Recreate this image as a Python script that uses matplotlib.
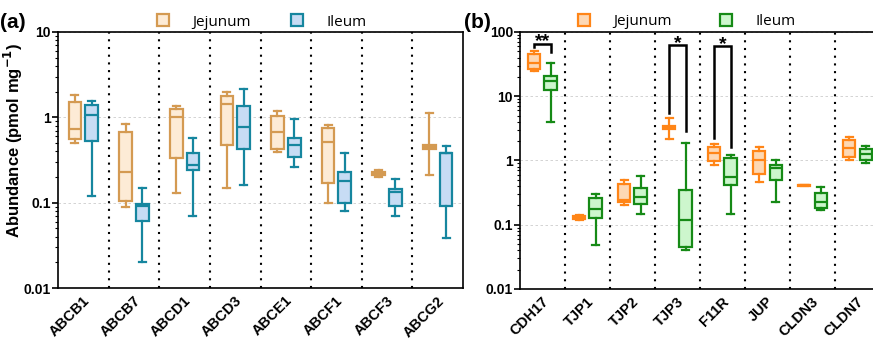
import matplotlib
matplotlib.use("Agg")
import matplotlib.pyplot as plt
import matplotlib.ticker as mticker
from matplotlib.lines import Line2D
import matplotlib.transforms as mtransforms

plt.rcParams['font.family'] = ['Liberation Sans', 'DejaVu Sans']

# ---- panel (a): ABC transporters, stats = whislo, q1, med, q3, whishi ----
abc_names = ['ABCB1', 'ABCB7', 'ABCD1', 'ABCD3', 'ABCE1', 'ABCF1', 'ABCF3', 'ABCG2']
abc_jej = [
    [0.50, 0.55, 0.73, 1.52, 1.84],
    [0.089, 0.106, 0.23, 0.68, 0.84],
    [0.13, 0.33, 1.00, 1.25, 1.36],
    [0.15, 0.47, 1.43, 1.77, 2.00],
    [0.39, 0.43, 0.67, 1.05, 1.20],
    [0.10, 0.17, 0.51, 0.76, 0.82],
    [0.20, 0.21, 0.22, 0.23, 0.24],
    [0.21, 0.42, 0.45, 0.47, 1.12],
]
abc_ile = [
    [0.12, 0.53, 1.06, 1.41, 1.57],
    [0.020, 0.061, 0.092, 0.097, 0.15],
    [0.069, 0.24, 0.28, 0.38, 0.58],
    [0.16, 0.42, 0.78, 1.37, 2.14],
    [0.26, 0.34, 0.47, 0.58, 0.96],
    [0.08, 0.10, 0.18, 0.226, 0.38],
    [0.07, 0.091, 0.133, 0.146, 0.19],
    [0.039, 0.091, 0.38, 0.38, 0.46],
]

# ---- panel (b): junction proteins ----
jun_names = ['CDH17', 'TJP1', 'TJP2', 'TJP3', 'F11R', 'JUP', 'CLDN3', 'CLDN7']
jun_jej = [
    [25.0, 27.0, 33.0, 45.5, 51.0],
    [0.12, 0.125, 0.13, 0.135, 0.14],
    [0.20, 0.225, 0.245, 0.43, 0.50],
    [2.17, 3.1, 3.3, 3.5, 4.55],
    [0.84, 0.98, 1.30, 1.61, 1.82],
    [0.46, 0.61, 1.00, 1.43, 1.61],
    [0.40, 0.405, 0.41, 0.415, 0.42],
    [1.02, 1.15, 1.55, 2.10, 2.30],
]
jun_ile = [
    [4.0, 12.7, 17.5, 21.0, 32.6],
    [0.049, 0.128, 0.177, 0.263, 0.296],
    [0.148, 0.21, 0.275, 0.367, 0.58],
    [0.040, 0.045, 0.12, 0.35, 1.86],
    [0.148, 0.42, 0.56, 1.10, 1.20],
    [0.225, 0.50, 0.77, 0.84, 1.02],
    [0.167, 0.184, 0.23, 0.31, 0.39],
    [0.92, 1.02, 1.27, 1.52, 1.69],
]
# significance: category index, bracket top, left leg end, right leg end, label
sig_idx = [0, 3, 4]
sig_top = [66.0, 63.0, 61.0]
sig_left = [59.0, 5.4, 2.25]
sig_right = [48.0, 2.86, 1.61]
sig_text = ['**', '*', '*']

JEJ_A = ('#D49A52', '#FDEBD6')
ILE_A = ('#16869F', '#C7DCF4')
JEJ_B = ('#FF8517', '#FDD8B4')
ILE_B = ('#168A16', '#CDF6CD')


def to_stats(rows):
    return [dict(whislo=r[0], q1=r[1], med=r[2], q3=r[3], whishi=r[4], fliers=[]) for r in rows]


def draw_boxes(ax, rows, pos, colors, width):
    ec, fc = colors
    ax.bxp(to_stats(rows), positions=pos, widths=width, patch_artist=True,
           showfliers=False, manage_ticks=False,
           boxprops=dict(facecolor=fc, edgecolor=ec, linewidth=1.6),
           medianprops=dict(color=ec, linewidth=1.6),
           whiskerprops=dict(color=ec, linewidth=1.6),
           capprops=dict(color=ec, linewidth=1.6), capwidths=width * 0.55)


def style_axis(ax, names, ymin, ymax):
    n = len(names)
    ax.set_yscale('log')
    ax.set_ylim(ymin, ymax)
    ax.set_xlim(-0.5, n - 0.5)
    for i in range(n - 1):
        ax.axvline(i + 0.5, color='black', lw=1.5, ls=(0, (1, 2.7)), zorder=1)
    ax.yaxis.set_major_locator(mticker.LogLocator(base=10))
    ax.yaxis.set_minor_locator(mticker.LogLocator(base=10, subs=range(2, 10)))
    ax.yaxis.set_minor_formatter(mticker.NullFormatter())
    ax.yaxis.set_major_formatter(mticker.FuncFormatter(lambda v, p: ('%g' % v)))
    ax.grid(axis='y', which='major', color='#cccccc', ls=(0, (3, 3)), lw=0.6)
    ax.set_axisbelow(True)
    ax.tick_params(axis='y', which='major', length=4, width=1.2, labelsize=10, pad=1)
    ax.tick_params(axis='y', which='minor', length=2, width=0.8)
    ax.tick_params(axis='x', length=0, pad=4)
    ax.set_xticks(range(n))
    ax.set_xticklabels(names, rotation=45, ha='right', va='top', fontsize=10.5, fontweight='bold')
    off = mtransforms.ScaledTranslation(9 / 100, 0, ax.figure.dpi_scale_trans)
    for lab in ax.get_xticklabels():
        lab.set_transform(lab.get_transform() + off)
    for lab in ax.get_yticklabels():
        lab.set_fontweight('bold')
    for s in ax.spines.values():
        s.set_linewidth(1.2)


def legend(ax, colors_j, colors_i, x0, colsp):
    h = [Line2D([], [], marker='s', ls='none', markersize=8, markeredgewidth=1.6,
                markeredgecolor=c[0], markerfacecolor=c[1]) for c in (colors_j, colors_i)]
    ax.legend(h, ['Jejunum', 'Ileum'], loc='center left', bbox_to_anchor=(x0, 1.039),
              ncol=2, frameon=False, columnspacing=colsp, handletextpad=0.92,
              prop={'family': 'Open Sans', 'size': 11}, borderaxespad=0, borderpad=0)


fig = plt.figure(figsize=(8.73, 3.4), dpi=100)
ax_a = fig.add_axes([0.0664, 0.1529, 0.4640, 0.7530])
ax_b = fig.add_axes([0.5956, 0.1500, 0.4124, 0.7559])

pos = list(range(len(abc_names)))
draw_boxes(ax_a, abc_jej, [p - 0.165 for p in pos], JEJ_A, 0.25)
draw_boxes(ax_a, abc_ile, [p + 0.165 for p in pos], ILE_A, 0.25)
style_axis(ax_a, abc_names, 0.01, 10)
ax_a.set_ylabel('Abundance (pmol mg$^{\\mathbf{-1}}$)', fontsize=12, fontweight='bold')
ax_a.yaxis.set_label_coords(-0.081, 0.578)
legend(ax_a, JEJ_A, ILE_A, 0.222, 2.03)

pos = list(range(len(jun_names)))
draw_boxes(ax_b, jun_jej, [p - 0.18 for p in pos], JEJ_B, 0.27)
draw_boxes(ax_b, jun_ile, [p + 0.18 for p in pos], ILE_B, 0.27)
style_axis(ax_b, jun_names, 0.01, 100)
legend(ax_b, JEJ_B, ILE_B, 0.136, 2.55)

for i, top, yl, yr, t in zip(sig_idx, sig_top, sig_left, sig_right, sig_text):
    xl, xr = i - 0.18, i + 0.18
    ax_b.plot([xl, xl, xr, xr], [yl, top, top, yr], color='black', lw=1.8, zorder=5,
              solid_joinstyle='miter')
    ax_b.text(i, top * 0.9, t, ha='center', va='baseline', fontsize=14, fontweight='bold')

fig.text(0.0, 0.905, '(a)', fontsize=15, fontweight='bold', va='bottom')
fig.text(0.532, 0.905, '(b)', fontsize=15, fontweight='bold', va='bottom')

fig.savefig('out.png', dpi=100)
